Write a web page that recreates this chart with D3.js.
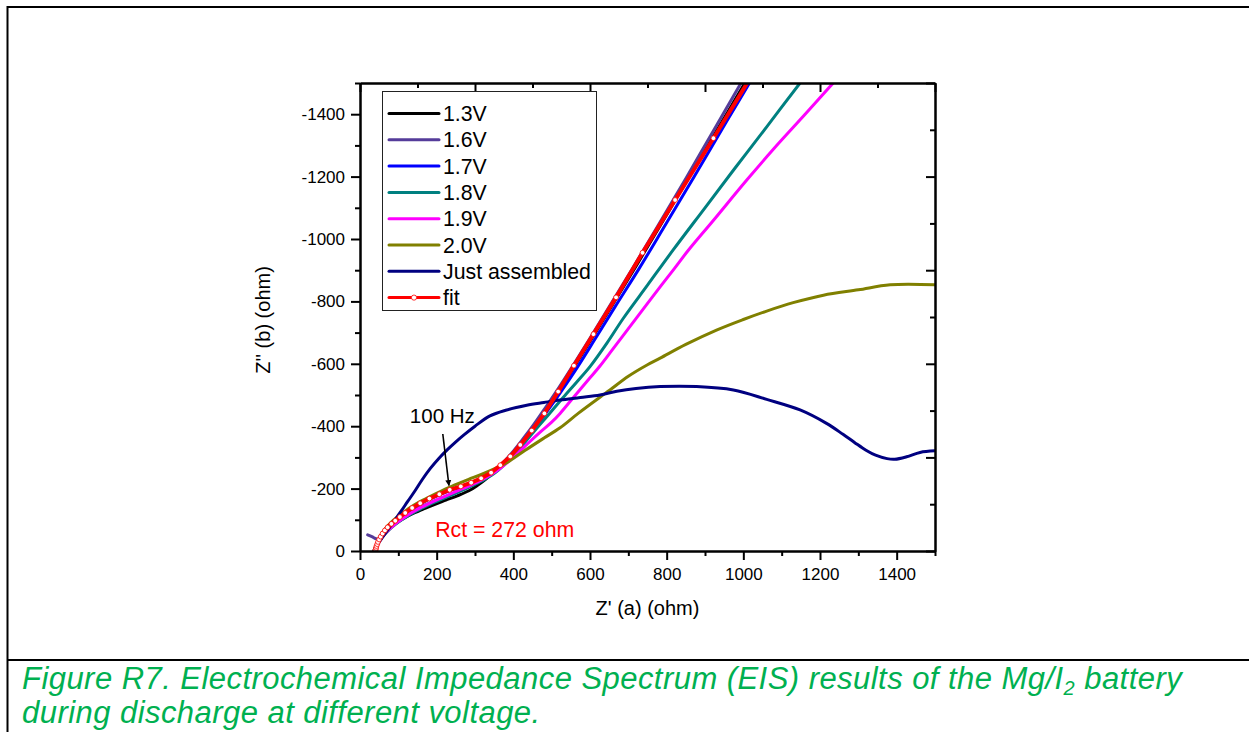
<!DOCTYPE html>
<html>
<head>
<meta charset="utf-8">
<script src="https://cdn.jsdelivr.net/npm/d3@7"></script>
<style>
  html, body { margin: 0; padding: 0; background: #fff; }
  svg { display: block; font-family: "Liberation Sans", Arial, sans-serif; }
</style>
</head>
<body>
<svg id="chart" width="1249" height="732"></svg>
<script>
// Nyquist data: [Z' (ohm), Z'' (ohm)]
const v13 = [[38,0],[41,-12],[46,-27],[53,-42],[63,-57],[77,-73],[95,-90],[116,-106],[140,-121],[166,-135],[194,-149],[224,-163],[254,-177],[284,-193],[306,-210],[326,-228],[346,-250],[370,-276],[396,-308],[424,-347],[454,-394],[486,-450],[520,-514],[558,-589],[604,-680],[658,-788],[720,-913],[788,-1053],[863,-1208],[943,-1373],[1004,-1500],[1020,-1535]];
const v16 = [[20,-52],[31,-46],[40,-40],[47,-38],[55,-47],[66,-62],[82,-84],[102,-104],[126,-122],[154,-139],[184,-155],[214,-170],[244,-185],[274,-200],[302,-217],[328,-236],[352,-259],[376,-287],[400,-320],[425,-359],[453,-405],[484,-460],[518,-522],[556,-595],[600,-682],[652,-787],[712,-908],[778,-1044],[852,-1198],[930,-1364],[994,-1500],[1010,-1535]];
const v17 = [[38,0],[40,-6],[42,-12],[44,-19],[47,-27],[51,-36],[56,-46],[62,-56],[70,-67],[80,-79],[92,-93],[104,-106],[118,-120],[136,-136],[157,-151],[181,-166],[207,-180],[234,-194],[263,-205],[290,-217],[316,-231],[342,-249],[368,-273],[394,-303],[422,-342],[452,-388],[486,-444],[524,-510],[566,-587],[612,-677],[666,-784],[728,-905],[796,-1044],[872,-1200],[952,-1368],[1016,-1500],[1032,-1535]];
const v18 = [[38,0],[42,-10],[47,-24],[54,-38],[63,-52],[75,-67],[90,-83],[108,-99],[128,-115],[152,-131],[178,-147],[206,-162],[236,-178],[266,-194],[296,-211],[326,-230],[354,-252],[380,-281],[404,-312],[430,-348],[460,-392],[494,-440],[530,-492],[565,-541],[600,-591],[645,-668],[687,-746],[750,-852],[817,-965],[900,-1100],[980,-1230],[1060,-1358],[1148,-1500],[1170,-1535]];
const v19 = [[38,0],[42,-10],[47,-24],[54,-39],[63,-53],[75,-68],[90,-85],[108,-101],[128,-118],[152,-135],[178,-151],[206,-167],[236,-183],[266,-199],[296,-215],[326,-233],[356,-256],[385,-284],[412,-314],[440,-347],[470,-381],[500,-413],[522,-441],[560,-497],[600,-555],[626,-593],[660,-648],[709,-727],[760,-810],[820,-905],[856,-963],[920,-1057],[1009,-1189],[1080,-1290],[1160,-1398],[1235,-1501],[1260,-1535]];
const v20 = [[36,0],[40,-13],[45,-28],[52,-46],[61,-64],[73,-82],[88,-100],[106,-117],[127,-136],[152,-155],[180,-173],[212,-192],[246,-211],[282,-229],[318,-246],[350,-263],[383,-283],[430,-322],[480,-362],[522,-395],[570,-442],[626,-493],[652,-516],[700,-560],[750,-597],[783,-618],[850,-662],[930,-708],[1000,-742],[1061,-769],[1130,-796],[1209,-820],[1300,-837],[1383,-853],[1500,-853]];
const vJust = [[36,0],[39,-8],[48,-25],[60,-46],[75,-72],[90,-98],[104,-122],[124,-158],[144,-194],[163,-230],[183,-264],[205,-296],[228,-325],[250,-350],[272,-373],[300,-400],[339,-433],[380,-451],[435,-467],[480,-476],[522,-484],[575,-492],[626,-500],[670,-512],[720,-521],[783,-527],[878,-527],[974,-516],[1061,-486],[1148,-452],[1217,-409],[1260,-374],[1290,-348],[1320,-323],[1345,-307],[1375,-296],[1395,-294],[1426,-302],[1461,-316],[1500,-321]];
const vFit = [[40,-1],[41,-5],[42,-10],[43,-16],[45,-22],[47,-29],[50,-37],[54,-46],[59,-56],[65,-66],[72,-76],[82,-87],[92,-97],[104,-109],[118,-122],[136,-138],[157,-153],[181,-168],[207,-182],[234,-196],[263,-207],[290,-219],[316,-233],[342,-251],[366,-275],[392,-303],[418,-340],[448,-386],[481,-441],[517,-511],[558,-594],[609,-695],[668,-813],[737,-956],[822,-1125],[922,-1323],[1036,-1552]];

const seriesNames = ["1.3V", "1.6V", "1.7V", "1.8V", "1.9V", "2.0V", "Just assembled", "fit"];
const seriesColors = ["#000000", "#553c9a", "#0000ff", "#008080", "#ff00ff", "#808000", "#000080", "#ff0000"];
const seriesData = [v13, v16, v17, v18, v19, v20, vJust, vFit];

const xMajorTicks = [0, 200, 400, 600, 800, 1000, 1200, 1400];
const xMinorTicks = [100, 300, 500, 700, 900, 1100, 1300, 1500];
const yMajorTicks = [0, -200, -400, -600, -800, -1000, -1200, -1400];
const yMinorTicks = [-100, -300, -500, -700, -900, -1100, -1300, -1500];
const xTickLabels = ["0", "200", "400", "600", "800", "1000", "1200", "1400"];
const yTickLabels = ["0", "-200", "-400", "-600", "-800", "-1000", "-1200", "-1400"];
const oppMajorTicks = [0, 300, 600, 900, 1200, 1500];
const oppMinorTicks = [150, 450, 750, 1050, 1350];

const svg = d3.select("#chart");
const W = 1249, H = 732;
const plot = { left: 360, right: 935, top: 83, bottom: 551 };

const x = d3.scaleLinear().domain([0, 1500]).range([plot.left, plot.right]);
const y = d3.scaleLinear().domain([0, -1500]).range([plot.bottom, plot.top]);

// page frame
const frame = svg.append("g").attr("stroke", "#000").attr("stroke-width", 2).attr("fill", "none");
frame.append("line").attr("x1", 7).attr("x2", W + 2).attr("y1", 7).attr("y2", 7);
frame.append("line").attr("x1", 7.5).attr("x2", 7.5).attr("y1", 6).attr("y2", H + 2);
frame.append("line").attr("x1", 7).attr("x2", W + 2).attr("y1", 660).attr("y2", 660);

// clip for the data region
svg.append("defs").append("clipPath").attr("id", "plotClip")
  .append("rect").attr("x", plot.left).attr("y", plot.top)
  .attr("width", plot.right - plot.left).attr("height", plot.bottom - plot.top);

const dataG = svg.append("g").attr("clip-path", "url(#plotClip)");
const smooth = d3.line().x(d => x(d[0])).y(d => y(d[1])).curve(d3.curveCatmullRom.alpha(0.5));
const straight = d3.line().x(d => x(d[0])).y(d => y(d[1]));

seriesData.forEach((data, i) => {
  const isFit = seriesNames[i] === "fit";
  dataG.append("path")
    .datum(data)
    .attr("fill", "none")
    .attr("stroke", seriesColors[i])
    .attr("stroke-width", isFit ? 4 : 3)
    .attr("stroke-linejoin", "round")
    .attr("stroke-linecap", "round")
    .attr("d", isFit ? straight : smooth);
  if (isFit) {
    dataG.selectAll("circle.fitpt").data(data).enter().append("circle")
      .attr("class", "fitpt")
      .attr("cx", d => x(d[0])).attr("cy", d => y(d[1]))
      .attr("r", 2.4).attr("fill", "#fff").attr("stroke", "#ff0000").attr("stroke-width", 0.8);
  }
});

// axes
function styleAxis(g) {
  g.select(".domain").attr("stroke", "#000").attr("stroke-width", 2);
  g.selectAll(".tick line").attr("stroke", "#000").attr("stroke-width", 2);
  g.selectAll("text").attr("fill", "#000").attr("font-size", 17)
    .attr("font-family", '"Liberation Sans", Arial, sans-serif');
}

// bottom
svg.append("g").attr("transform", `translate(0,${plot.bottom})`)
  .call(d3.axisBottom(x).tickValues(xMinorTicks).tickSize(5).tickSizeOuter(0).tickFormat(""))
  .call(styleAxis);
svg.append("g").attr("transform", `translate(0,${plot.bottom})`)
  .call(d3.axisBottom(x).tickValues(xMajorTicks).tickSize(9).tickSizeOuter(0).tickPadding(8)
    .tickFormat((d, i) => xTickLabels[i]))
  .call(styleAxis);

// left
svg.append("g").attr("transform", `translate(${plot.left},0)`)
  .call(d3.axisLeft(y).tickValues(yMinorTicks).tickSize(5).tickSizeOuter(0).tickFormat(""))
  .call(styleAxis);
svg.append("g").attr("transform", `translate(${plot.left},0)`)
  .call(d3.axisLeft(y).tickValues(yMajorTicks).tickSize(9).tickSizeOuter(0).tickPadding(6)
    .tickFormat((d, i) => yTickLabels[i]))
  .call(styleAxis);

// top (ticks pointing inward)
svg.append("g").attr("transform", `translate(0,${plot.top})`)
  .call(d3.axisTop(x).tickValues(oppMinorTicks).tickSize(-5).tickSizeOuter(0).tickFormat(""))
  .call(styleAxis);
svg.append("g").attr("transform", `translate(0,${plot.top})`)
  .call(d3.axisTop(x).tickValues(oppMajorTicks).tickSize(-9).tickSizeOuter(0).tickFormat(""))
  .call(styleAxis);

// right (ticks pointing inward)
const yOpp = v => -v;
svg.append("g").attr("transform", `translate(${plot.right},0)`)
  .call(d3.axisRight(y).tickValues(oppMinorTicks.map(yOpp)).tickSize(-5).tickSizeOuter(0).tickFormat(""))
  .call(styleAxis);
svg.append("g").attr("transform", `translate(${plot.right},0)`)
  .call(d3.axisRight(y).tickValues(oppMajorTicks.map(yOpp)).tickSize(-9).tickSizeOuter(0).tickFormat(""))
  .call(styleAxis);

// axis titles
svg.append("text")
  .attr("x", (plot.left + plot.right) / 2).attr("y", 615)
  .attr("text-anchor", "middle").attr("font-size", 20).attr("fill", "#000")
  .text("Z' (a) (ohm)");
svg.append("text")
  .attr("transform", `translate(270,${(plot.top + plot.bottom) / 2 + 3}) rotate(-90)`)
  .attr("text-anchor", "middle").attr("font-size", 20).attr("fill", "#000")
  .text("Z'' (b) (ohm)");

// legend
const legend = svg.append("g");
legend.append("rect").attr("x", 382.5).attr("y", 91.5).attr("width", 214).attr("height", 219)
  .attr("fill", "#fff").attr("stroke", "#222").attr("stroke-width", 1);
seriesNames.forEach((name, i) => {
  const cy = 113.5 + i * 26.3;
  legend.append("line").attr("x1", 389).attr("x2", 439).attr("y1", cy).attr("y2", cy)
    .attr("stroke", seriesColors[i]).attr("stroke-width", 3).attr("stroke-linecap", "round");
  if (name === "fit") {
    legend.append("circle").attr("cx", 414).attr("cy", cy).attr("r", 2.6)
      .attr("fill", "#fff").attr("stroke", "#ff0000").attr("stroke-width", 0.8);
  }
  legend.append("text").attr("x", 443).attr("y", cy).attr("dy", "0.36em")
    .attr("font-size", 21.3).attr("fill", "#000").text(name);
});

// annotations
svg.append("defs").append("marker").attr("id", "arrowHead")
  .attr("viewBox", "0 0 10 10").attr("refX", 9).attr("refY", 5)
  .attr("markerWidth", 6).attr("markerHeight", 8).attr("markerUnits", "userSpaceOnUse")
  .attr("orient", "auto")
  .append("path").attr("d", "M0,0 L10,5 L0,10 Z").attr("fill", "#000");
svg.append("text").attr("x", x(130)).attr("y", y(-410)).attr("font-size", 20.5).attr("fill", "#000")
  .text("100 Hz");
svg.append("line")
  .attr("x1", x(216)).attr("y1", y(-375)).attr("x2", x(232)).attr("y2", y(-210))
  .attr("stroke", "#000").attr("stroke-width", 1.6).attr("marker-end", "url(#arrowHead)");
svg.append("text").attr("x", x(196)).attr("y", y(-45)).attr("font-size", 21.3).attr("fill", "#ff0000")
  .text("Rct = 272 ohm");

// caption
const caption = svg.append("g").attr("fill", "#00b050").attr("font-style", "italic")
  .attr("font-size", 31).attr("letter-spacing", 0.45);
const line1 = caption.append("text").attr("x", 22).attr("y", 689);
line1.append("tspan").text("Figure R7. Electrochemical Impedance Spectrum (EIS) results of the Mg/I");
line1.append("tspan").attr("font-size", 20).attr("dy", 6).text("2");
line1.append("tspan").attr("dy", -6).text(" battery");
caption.append("text").attr("x", 22).attr("y", 723)
  .text("during discharge at different voltage.");
</script>
</body>
</html>
